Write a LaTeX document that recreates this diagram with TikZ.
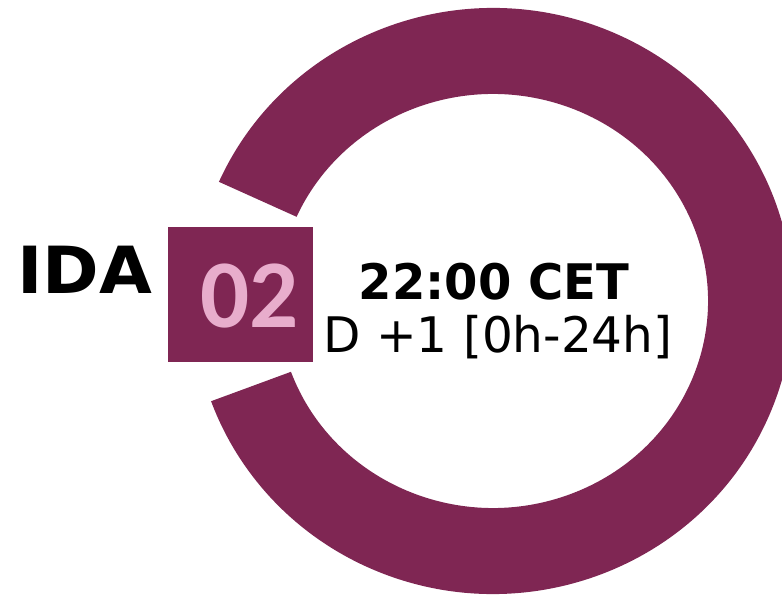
\documentclass[tikz,border=0pt]{standalone}
\usepackage{fontspec}
\setmainfont{DejaVu Sans}
\newfontfamily\numfont{Carlito}
\usetikzlibrary{calc}
\definecolor{ringc}{HTML}{7F2653}
\definecolor{pinkc}{HTML}{E8ADCC}
\tikzset{
  ringfill/.style={fill=ringc, draw=none},
  lbl/.style={inner sep=0pt, anchor=base, text=black},
}
\begin{document}
\begin{tikzpicture}[x=1pt,y=1pt]
\useasboundingbox (0,0) rectangle (782,595);
\clip (0,0) rectangle (782,595);
\coordinate (c) at (493,294);
\fill[ringfill] ($(c)+(156:300 and 293)$) arc[start angle=156, end angle=-160, x radius=300, y radius=293]
  -- ($(c)+(-160:215 and 207)$) arc[start angle=-160, end angle=156, x radius=215, y radius=207] -- cycle;
\node[ringfill, minimum width=145pt, minimum height=135pt, inner sep=0pt] (sq) at (240.5,300.5) {};
\node[lbl, text=pinkc] (num) at (249.5,267) {\numfont\bfseries\fontsize{97}{97}\selectfont 02};
\node[lbl, xscale=1.05] (ida) at (85,301) {\bfseries\fontsize{65}{65}\selectfont IDA};
\node[lbl, xscale=0.98] (time) at (494,295) {\bfseries\fontsize{49}{49}\selectfont 22:00 CET};
\node[lbl, xscale=0.99] (day) at (498,242) {\fontsize{49}{49}\selectfont D +1 [0h-24h]};
\end{tikzpicture}
\end{document}
